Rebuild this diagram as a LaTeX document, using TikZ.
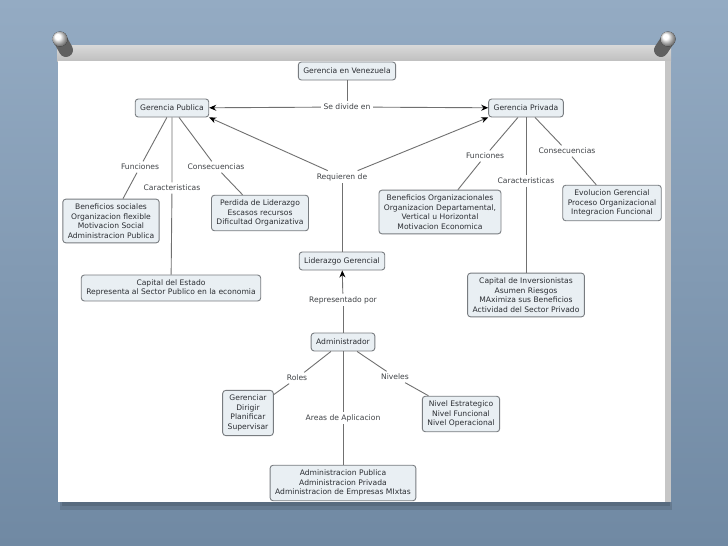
\documentclass[tikz,border=0pt]{standalone}
\usepackage{fontspec}
\setmainfont{DejaVu Sans}
\usetikzlibrary{arrows.meta}
\definecolor{fondoalto}{RGB}{148,171,195}
\definecolor{fondobajo}{RGB}{112,137,163}
\definecolor{cajaazul}{RGB}{233,239,243}
\definecolor{bordegris}{RGB}{120,124,128}
\definecolor{lineagris}{RGB}{112,112,112}
\definecolor{textogris}{RGB}{42,45,50}
\begin{document}
\begin{tikzpicture}[x=1pt,y=-1pt,>={Stealth[length=7pt,width=6pt,black]},
	concepto/.style={draw=bordegris,line width=0.9pt,rounded corners=3pt,fill=cajaazul,text=textogris,align=center,inner xsep=5pt,inner ysep=4.5pt,minimum height=18pt,font=\fontsize{7.6}{9.6}\selectfont},
	enlace/.style={text=textogris!90,inner sep=2.5pt,font=\fontsize{7.6}{9.6}\selectfont},
	linea/.style={draw=lineagris,line width=0.9pt}]
	\useasboundingbox (0,0) rectangle (728,546);
	% fondo, hoja y chinchetas
	\fill[top color=fondoalto,bottom color=fondobajo] (0,0) rectangle (728,546);
	\fill[black,opacity=0.12] (60,502) rectangle (672,510);
	\fill[black,opacity=0.12] (62,502) rectangle (670,506);
	\fill[top color=gray!30,bottom color=gray!50] (57,45) rectangle (671,61);
	\fill[gray!45] (665,61) rectangle (671,502);
	\fill[white] (58,61) rectangle (665,502);
	\draw[line width=14pt,line cap=round,gray!75!black] (61,41)--(66,50);
	\fill[ball color=white] (60,39) ellipse (7.5 and 7.5);
	\draw[line width=14pt,line cap=round,gray!75!black] (667,41)--(661,50);
	\fill[ball color=white] (668,39) ellipse (7.5 and 7.5);
	% conceptos
	\node[concepto] (gven) at (347,71) {Gerencia en Venezuela};
	\node[concepto] (gpub) at (172,108) {Gerencia Publica};
	\node[concepto] (gpriv) at (526,108) {Gerencia Privada};
	\node[concepto] (benpub) at (111,221) {Beneficios sociales\\Organizacion flexible\\Motivacion Social\\Administracion Publica};
	\node[concepto] (perd) at (260,213) {Perdida de Liderazgo\\Escasos recursos\\Dificultad Organizativa};
	\node[concepto] (capest) at (171,288) {Capital del Estado\\Representa al Sector Publico en la economia};
	\node[concepto] (benpriv) at (440,212) {Beneficios Organizacionales\\Organizacion Departamental,\\Vertical u Horizontal\\Motivacion Economica};
	\node[concepto] (evol) at (612,203) {Evolucion Gerencial\\Proceso Organizacional\\Integracion Funcional};
	\node[concepto] (capinv) at (526,295) {Capital de Inversionistas\\Asumen Riesgos\\MAximiza sus Beneficios\\Actividad del Sector Privado};
	\node[concepto] (lider) at (342,261) {Liderazgo Gerencial};
	\node[concepto] (admin) at (343,342) {Administrador};
	\node[concepto] (roles) at (248,413) {Gerenciar\\Dirigir\\Planificar\\Supervisar};
	\node[concepto] (nivel) at (461,414) {Nivel Estrategico\\Nivel Funcional\\Nivel Operacional};
	\node[concepto] (areas) at (343,483) {Administracion Publica\\Administracion Privada\\Administracion de Empresas MIxtas};
	% enlaces
	\node[enlace] (divide) at (347,107) {Se divide en};
	\node[enlace] (funpub) at (140,167) {Funciones};
	\node[enlace] (carpub) at (172,188) {Caracteristicas};
	\node[enlace] (conpub) at (216,167) {Consecuencias};
	\node[enlace] (funpriv) at (485,156) {Funciones};
	\node[enlace] (carpriv) at (526,181) {Caracteristicas};
	\node[enlace] (conpriv) at (567,151) {Consecuencias};
	\node[enlace] (requi) at (342,177) {Requieren de};
	\node[enlace] (repre) at (343,300) {Representado por};
	\node[enlace] (rol) at (297,378) {Roles};
	\node[enlace] (niv) at (395,377) {Niveles};
	\node[enlace] (apli) at (343,418) {Areas de Aplicacion};
	% conectores
	\draw[linea] (gven)--(divide);
	\draw[linea,->] (divide)--(gpub);
	\draw[linea,->] (divide)--(gpriv);
	\draw[linea] (gpub)--(funpub) (funpub)--(benpub);
	\draw[linea] (gpub)--(carpub) (carpub)--(capest);
	\draw[linea] (gpub)--(conpub) (conpub)--(perd);
	\draw[linea] (gpriv)--(funpriv) (funpriv)--(benpriv);
	\draw[linea] (gpriv)--(carpriv) (carpriv)--(capinv);
	\draw[linea] (gpriv)--(conpriv) (conpriv)--(evol);
	\draw[linea] (lider)--(requi);
	\draw[linea,->] (requi)--(gpub.south east);
	\draw[linea,->] (requi)--(gpriv.south west);
	\draw[linea] (admin)--(repre);
	\draw[linea,->] (repre)--(lider);
	\draw[linea] (admin)--(rol) (rol)--(roles);
	\draw[linea] (admin)--(niv) (niv)--(nivel);
	\draw[linea] (admin)--(apli) (apli)--(areas);
\end{tikzpicture}
\end{document}
